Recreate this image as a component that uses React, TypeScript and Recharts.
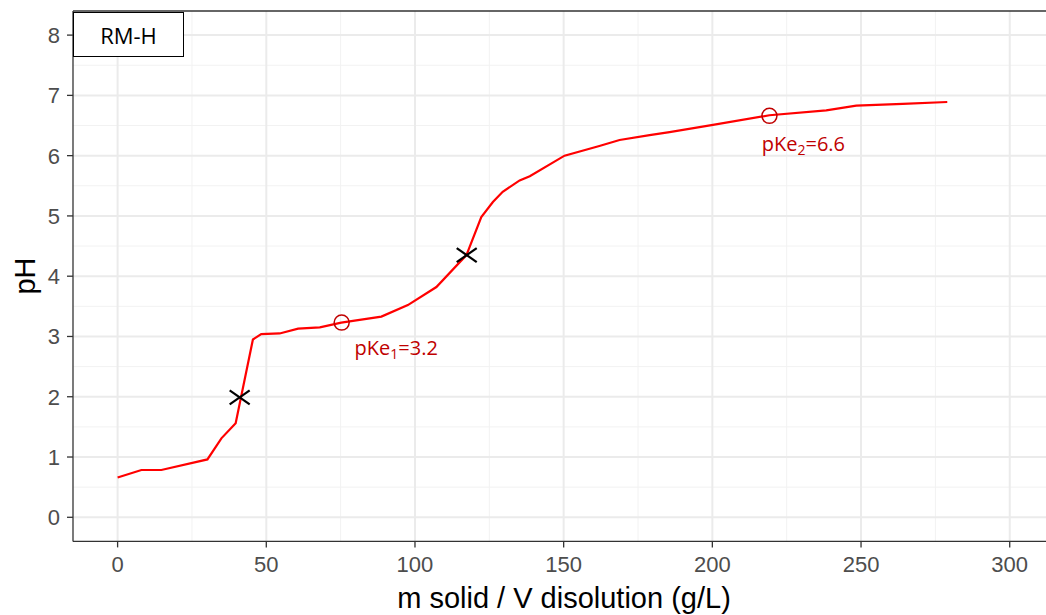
import { CartesianGrid, ComposedChart, Line, ReferenceLine, Scatter, XAxis, YAxis } from "recharts"

// titration curve
const massConc = [0, 8, 14.7, 30.2, 34.9, 39.7, 45.5, 48.3, 54.5, 60.7, 68, 75.2, 88.7, 97.6, 107.2, 117.3, 122.3, 126.2, 129.5, 135.2, 138.6, 150.3, 162, 168.8, 178.9, 185.6, 200.2, 219.2, 238.3, 248.4, 264, 279]
const phValues = [0.66, 0.785, 0.785, 0.96, 1.31, 1.56, 2.95, 3.04, 3.05, 3.13, 3.15, 3.23, 3.33, 3.52, 3.82, 4.35, 4.98, 5.23, 5.4, 5.59, 5.66, 6.0, 6.16, 6.26, 6.34, 6.39, 6.51, 6.67, 6.75, 6.83, 6.86, 6.89]

// equivalence points
const eqX = [41.05, 117.4]
const eqY = [1.99, 4.35]

// half-equivalence points (pKe) and where their labels sit
const pkX = [75.35, 219.2]
const pkY = [3.23, 6.66]
const pkLabelX = [79.7, 216.6]
const pkLabelY = [2.79, 6.17]
const pkSub = ["1", "2"]
const pkText = ["3.2", "6.6"]

const xTicks = [0, 50, 100, 150, 200, 250, 300]
const xMinor = [25, 75, 125, 175, 225, 275]
const yTicks = [0, 1, 2, 3, 4, 5, 6, 7, 8]
const yMinor = [0.5, 1.5, 2.5, 3.5, 4.5, 5.5, 6.5, 7.5]

const curve = massConc.map((x, i) => ({ x, y: phValues[i] }))
const eqPoints = eqX.map((x, i) => ({ x, y: eqY[i] }))
const pkPoints = pkX.map((x, i) => ({ x, y: pkY[i] }))
const pkLabels = pkLabelX.map((x, i) => ({ x, y: pkLabelY[i], sub: pkSub[i], val: pkText[i] }))

const tickFont = "'Liberation Sans', Arial, sans-serif"
const noteFont = "'Open Sans', 'Noto Sans', sans-serif"
const darkRed = "#c00000"

const XTick = ({ x, y, payload }: any) => (
  <text x={x} y={y + 21} textAnchor="middle" fontSize={22} fill="#4d4d4d" fontFamily={tickFont}>
    {payload.value}
  </text>
)

const YTick = ({ x, y, payload }: any) => (
  <text x={x} y={y + 8} textAnchor="end" fontSize={22} fill="#4d4d4d" fontFamily={tickFont}>
    {payload.value}
  </text>
)

const Cross = ({ cx, cy }: any) => (
  <g stroke="#000" strokeWidth={2.2}>
    <line x1={cx - 10} y1={cy - 7} x2={cx + 10} y2={cy + 7} />
    <line x1={cx - 10} y1={cy + 7} x2={cx + 10} y2={cy - 7} />
  </g>
)

const Ring = ({ cx, cy }: any) => (
  <circle cx={cx} cy={cy} r={7.5} fill="none" stroke={darkRed} strokeWidth={1.5} />
)

const PkLabel = ({ cx, cy, payload }: any) => (
  <text x={cx} y={cy + 6} fontSize={20} fill={darkRed} fontFamily={noteFont}>
    pKe
    <tspan fontSize={14} dy={4}>{payload.sub}</tspan>
    <tspan dy={-4}>={payload.val}</tspan>
  </text>
)

export default function App() {
  return (
    <div style={{ position: "fixed", left: 0, top: 0, width: 1046, height: 615, overflow: "hidden", background: "#fff" }}>
      <ComposedChart
        width={1046}
        height={615}
        margin={{ top: 11, right: 0, bottom: 33.6, left: 0 }}
      >
        <CartesianGrid stroke="#f2f2f2" strokeWidth={1} verticalValues={xMinor} horizontalValues={yMinor} />
        <CartesianGrid stroke="#ebebeb" strokeWidth={2} verticalValues={xTicks} horizontalValues={yTicks} />
        <XAxis
          type="number"
          dataKey="x"
          domain={[-15, 312.2]}
          ticks={xTicks}
          allowDataOverflow
          height={40}
          tickSize={6}
          tickMargin={4}
          stroke="#333"
          strokeWidth={1.3}
          tick={<XTick />}
        />
        <YAxis
          type="number"
          dataKey="y"
          domain={[-0.4, 8.4]}
          ticks={yTicks}
          allowDataOverflow
          width={73}
          tickSize={6}
          tickMargin={7}
          stroke="#333"
          strokeWidth={1.3}
          tick={<YTick />}
        />
        <ReferenceLine y={8.4} stroke="#333" strokeWidth={1.3} />
        <Line
          data={curve}
          dataKey="y"
          type="linear"
          stroke="#ff0000"
          strokeWidth={2.2}
          dot={false}
          isAnimationActive={false}
        />
        <Scatter data={eqPoints} dataKey="y" shape={<Cross />} isAnimationActive={false} />
        <Scatter data={pkPoints} dataKey="y" shape={<Ring />} isAnimationActive={false} />
        <Scatter data={pkLabels} dataKey="y" shape={<PkLabel />} isAnimationActive={false} />
      </ComposedChart>

      <div
        style={{
          position: "absolute",
          left: 73,
          top: 12,
          width: 111,
          height: 45,
          border: "1.3px solid #000",
          background: "#fff",
          boxSizing: "border-box",
          display: "flex",
          alignItems: "center",
          justifyContent: "center",
          fontFamily: noteFont,
          fontSize: 22,
          color: "#000",
        }}
      >
        RM-H
      </div>

      <div
        style={{
          position: "absolute",
          left: 73,
          width: 982,
          top: 581,
          textAlign: "center",
          fontFamily: tickFont,
          fontSize: 29,
          lineHeight: "34px",
          color: "#000",
          whiteSpace: "nowrap",
        }}
      >
        m solid / V disolution (g/L)
      </div>

      <div
        style={{
          position: "absolute",
          left: 25,
          top: 276,
          transform: "translate(-50%, -50%) rotate(-90deg)",
          fontFamily: tickFont,
          fontSize: 29,
          lineHeight: "34px",
          color: "#000",
          whiteSpace: "nowrap",
        }}
      >
        pH
      </div>
    </div>
  )
}
